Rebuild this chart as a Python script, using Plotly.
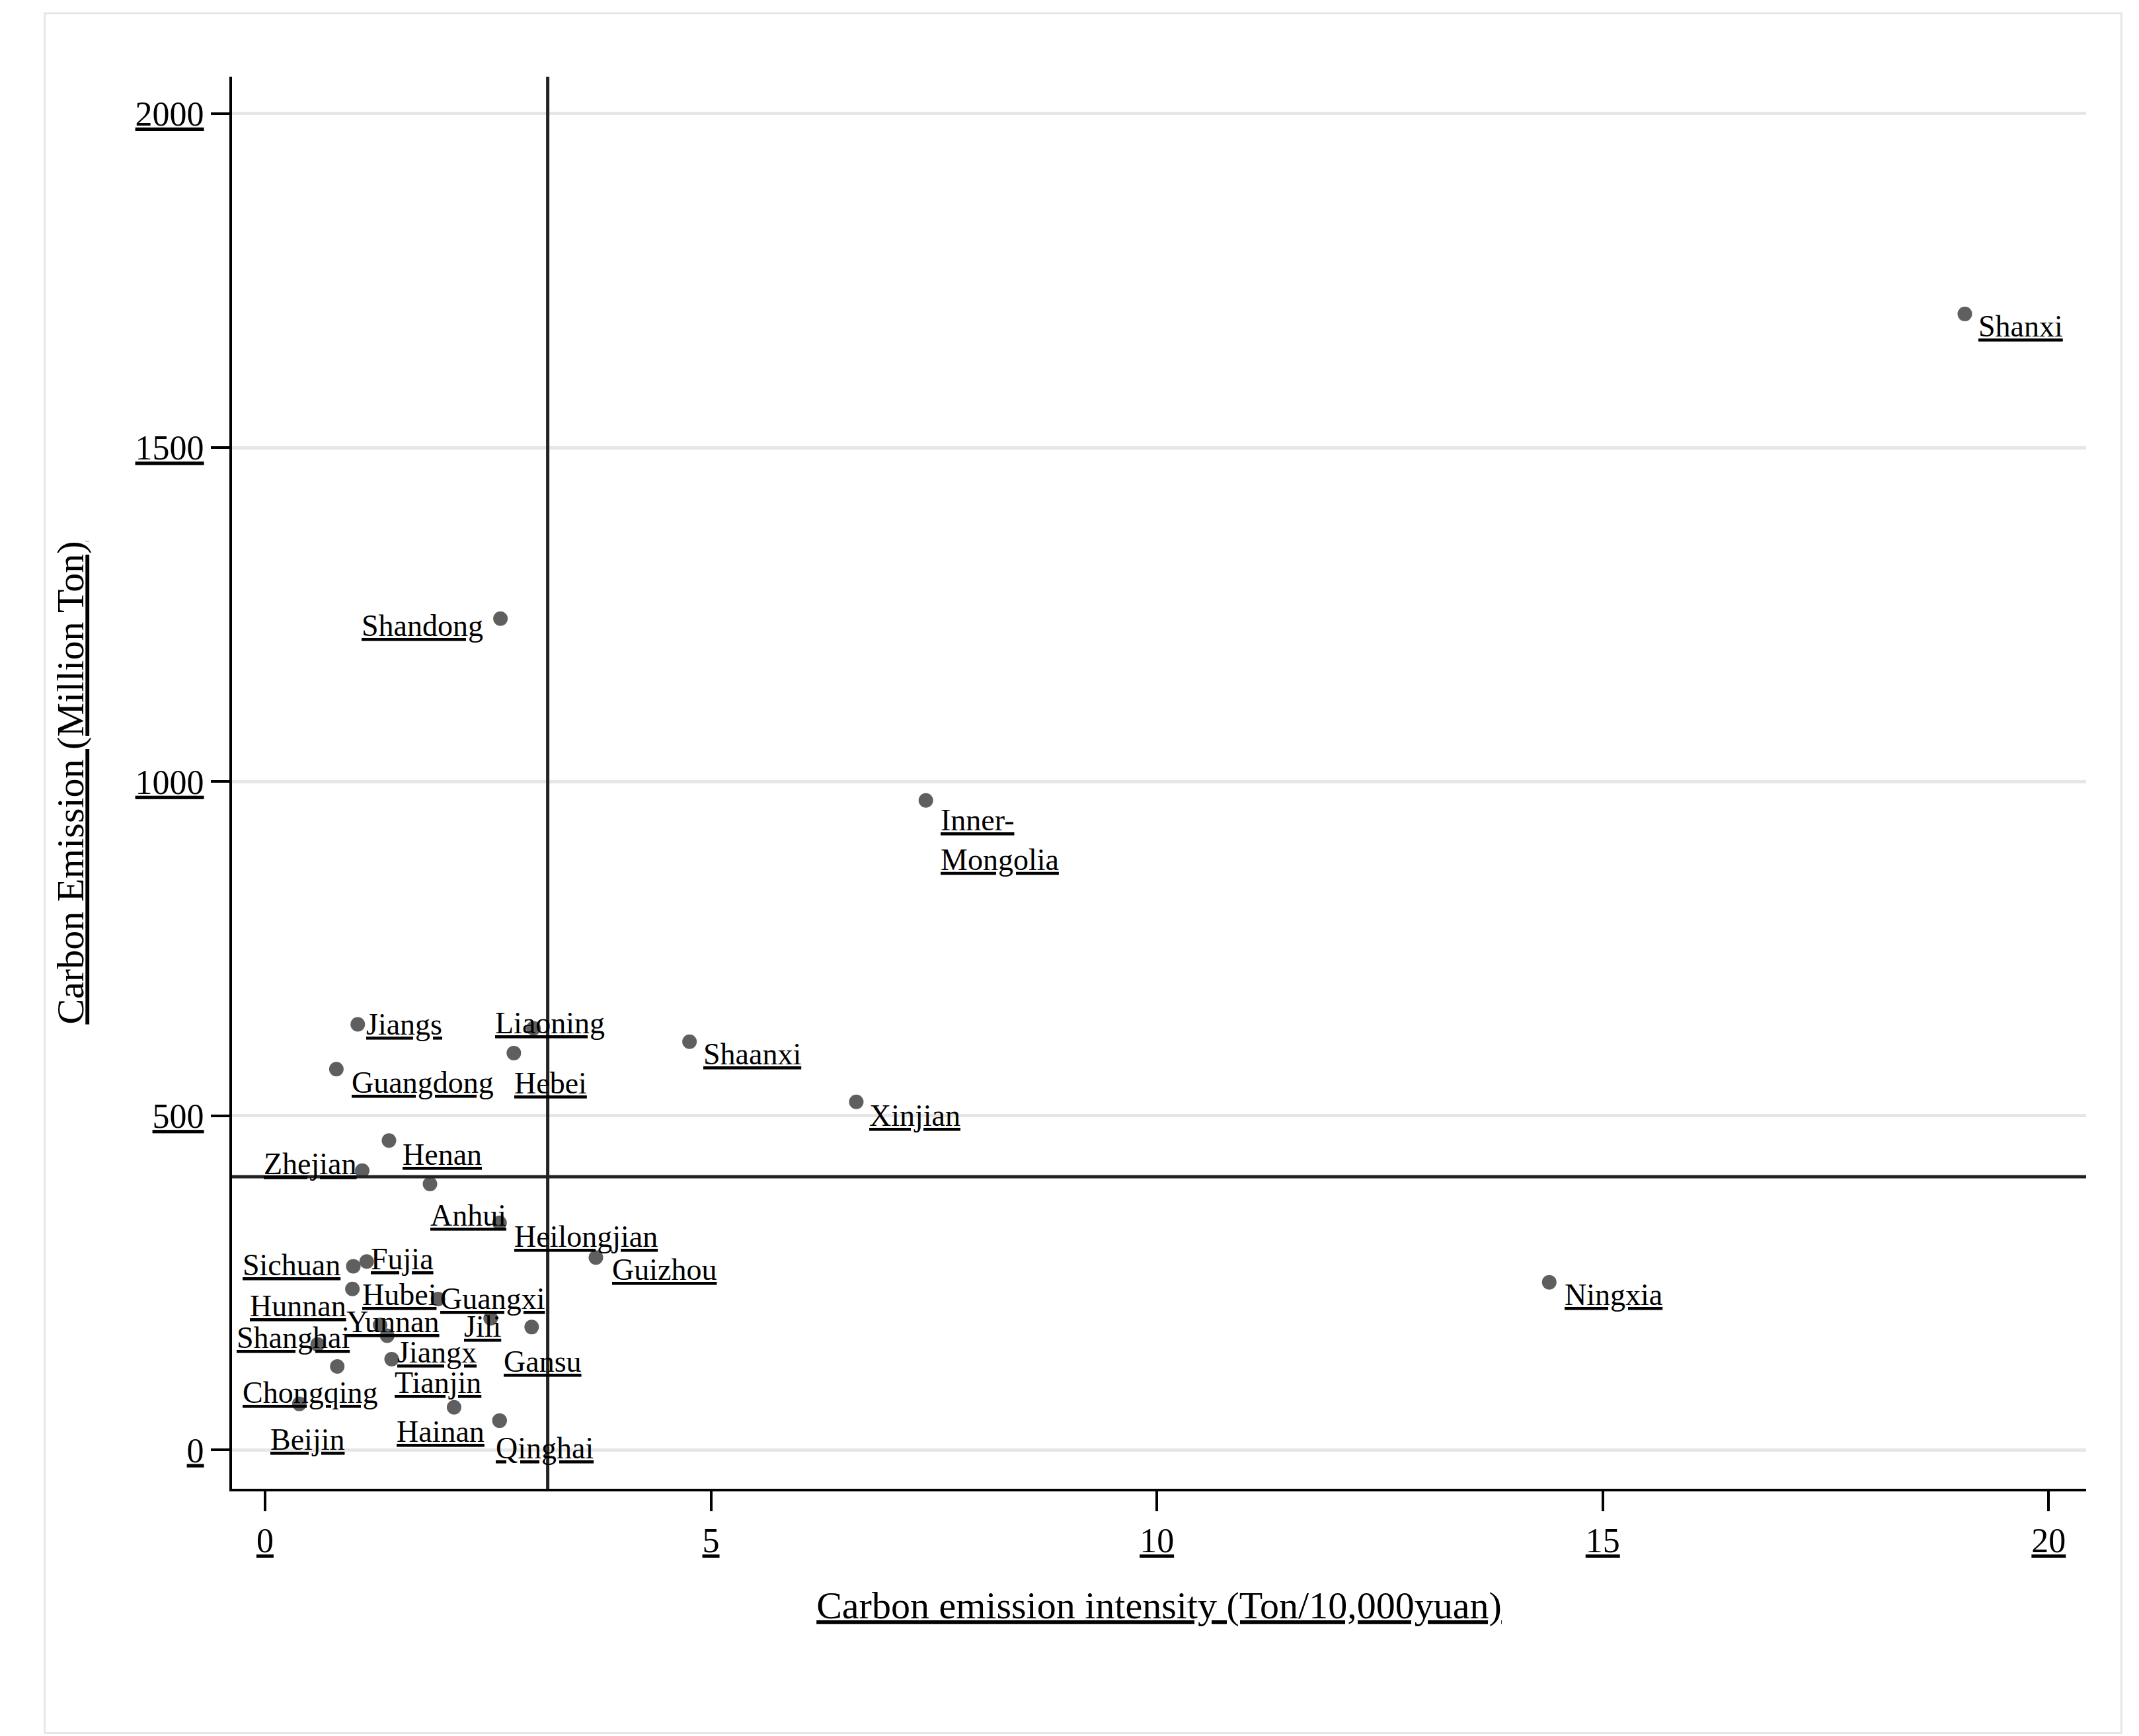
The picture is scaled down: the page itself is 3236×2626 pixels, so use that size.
import plotly.graph_objects as go

# --- data ---
provinces = ["Shanxi", "Shandong", "Inner-<br>Mongolia", "Jiangs", "Liaoning", "Shaanxi", "Hebei",
             "Guangdong", "Xinjian", "Henan", "Zhejian", "Anhui", "Heilongjian", "Guizhou",
             "Ningxia", "Fujia", "Sichuan", "Hubei", "Guangxi", "Hunnan", "Yunnan", "Jili",
             "Gansu", "Shanghai", "Jiangx", "Chongqing", "Beijin", "Tianjin", "Hainan", "Qinghai"]
intensity = [19.06, 2.64, 7.41, 1.04, 3.01, 4.76, 2.79, 0.80, 6.63, 1.39, 1.09, 1.85, 2.63, 3.71,
             14.40, 1.14, 0.99, 0.98, 1.94, 1.29, 1.37, 2.53, 2.99, 0.59, 1.42, 0.81, 0.385, 2.12,
             2.63, 2.63]
emission = [1700, 1244, 972, 637, 631, 611, 594, 570, 521, 463, 418, 398, 340, 288,
            251, 282, 275, 241, 226, 187, 171, 197, 184, 158, 136, 125, 69, 64, 44, 44]
x_cut = 3.17
y_cut = 409

# label offsets from each dot (pixels, right / down)
label_off = {
    "Shanxi": (41, 9), "Shandong": (-57, 5), "Inner-<br>Mongolia": (54, 29), "Jiangs": (34, 0),
    "Liaoning": (12, -4), "Shaanxi": (46, 9), "Hebei": (27, 22), "Guangdong": (63, 10),
    "Xinjian": (43, 10), "Henan": (39, 10), "Zhejian": (-38, -5), "Anhui": (28, 23),
    "Heilongjian": (63, 10), "Guizhou": (50, 9), "Ningxia": (47, 9), "Fujia": (26, -2),
    "Sichuan": (-45, -1), "Hubei": (34, 4), "Guangxi": (40, 0), "Hunnan": (-60, -14),
    "Yunnan": (4, -10), "Jili": (-6, 6), "Gansu": (8, 25), "Shanghai": (-18, -5),
    "Jiangx": (33, -5), "Chongqing": (-20, 19), "Beijin": (6, 26), "Tianjin": (-12, -18),
    "Hainan": (-43, 8), "Qinghai": (33, 20),
}
S = 2.07
FONT = "Liberation Serif"

fig = go.Figure()
fig.add_trace(go.Scatter(
    x=intensity, y=emission, mode="markers",
    marker=dict(size=22, color="#5f5f5f"), showlegend=False, cliponaxis=False,
))

for p, xv, yv in zip(provinces, intensity, emission):
    dx, dy = label_off[p]
    fig.add_annotation(x=xv, y=yv, text=f"<u>{p}</u>", showarrow=False,
                       xshift=dx * S, yshift=-dy * S, align="left",
                       font=dict(family=FONT, size=46, color="black"))

fig.add_vline(x=x_cut, line=dict(color="#222222", width=5))
fig.add_hline(y=y_cut, line=dict(color="#222222", width=5))

# thin frame around whole picture
fig.add_shape(type="rect", xref="paper", yref="paper", x0=-0.101, x1=1.019, y0=-0.173, y1=1.045,
              line=dict(color="#e6e6e6", width=3))

fig.update_xaxes(
    range=[-0.37, 20.42], tickvals=[0, 5, 10, 15, 20],
    ticktext=[f"<u>{v}</u>" for v in [0, 5, 10, 15, 20]],
    showgrid=False, zeroline=False, showline=True, linecolor="black", linewidth=4,
    ticks="outside", ticklen=30, tickwidth=4, tickcolor="black",
    tickfont=dict(family=FONT, size=52, color="black"),
    title=dict(text="<u>Carbon emission intensity (Ton/10,000yuan)</u>",
               font=dict(family=FONT, size=58, color="black"), standoff=50),
)
fig.update_yaxes(
    range=[-58, 2055], tickvals=[0, 500, 1000, 1500, 2000],
    ticktext=[f"<u>{v}</u>" for v in [0, 500, 1000, 1500, 2000]],
    showgrid=True, gridcolor="#e6e6e6", gridwidth=5, zeroline=False,
    showline=True, linecolor="black", linewidth=4,
    ticks="outside", ticklen=28, tickwidth=4, tickcolor="black",
    tickfont=dict(family=FONT, size=52, color="black"),
    title=dict(text="<u>Carbon Emission (Million Ton)</u>",
               font=dict(family=FONT, size=58, color="black"), standoff=60),
)

fig.update_layout(
    width=3236, height=2626,
    margin=dict(l=343, r=88, t=108, b=382),
    plot_bgcolor="white", paper_bgcolor="white",
)

fig.write_html("out.html")
